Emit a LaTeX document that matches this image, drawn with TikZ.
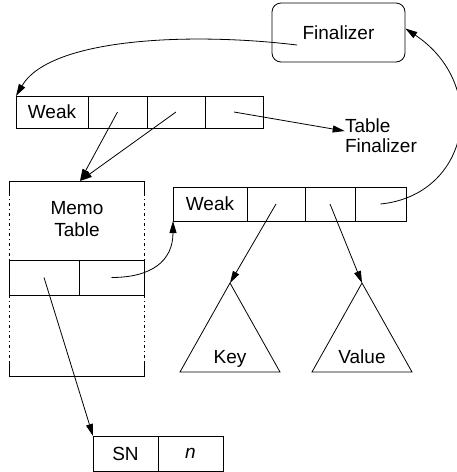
\documentclass[tikz,border=0pt]{standalone}
\usepackage{fontspec}
\setmainfont{Liberation Sans}
\usetikzlibrary{arrows.meta}
\usetikzlibrary{positioning}
\tikzset {
  % one field of a record
  cell/.style = {
    draw = black,
    rectangle,
    inner sep = 0,
    outer sep = 0,
    minimum height = 34pt
  },
  % rounded box for the finalizer
  fbox/.style = {
    draw = black,
    rectangle,
    rounded corners = 9pt,
    minimum width = 133pt,
    minimum height = 59pt,
    inner sep = 0
  },
  plain/.style = {
    inner sep = 0
  },
  % pointer out of a field
  ptr/.style = {
    draw = black,
    -{Triangle[length = 12pt, width = 7pt]}
  },
  % broken sides of the memo table
  memo side/.style = {
    dash pattern = on 3pt off 3pt on 1pt off 3pt
  }
}

\begin{document}
\begin{tikzpicture}[x = 1pt, y = -1pt, line width = 0.8pt,
    font = \fontsize{19}{22}\selectfont]
    \useasboundingbox (0,0) rectangle (457,472);

    \node[fbox] (final) at (338.5,32.5) {Finalizer};
    \coordinate (final-out) at (297,45);

    % upper weak pair
    \node[cell, minimum width = 72pt, minimum height = 32pt] (weakA) at (52,112) {Weak};
    \node[cell, minimum width = 59pt, minimum height = 32pt] (weakA-key) [right=0pt of weakA] {};
    \node[cell, minimum width = 58pt, minimum height = 32pt] (weakA-val) [right=0pt of weakA-key] {};
    \node[cell, minimum width = 58pt, minimum height = 32pt] (weakA-fin) [right=0pt of weakA-val] {};
    \node[plain, align = left, font = \fontsize{19}{20}\selectfont] (tfin) at (381,136) {Table\\Finalizer};

    % memo table
    \coordinate (memo-top) at (80,181);
    \node[plain, align = center] (memo) at (77,219) {Memo\\Table};
    \node[cell, minimum width = 70pt, minimum height = 35pt] (memo-key) at (44,277.5) {};
    \node[cell, minimum width = 65pt, minimum height = 35pt] (memo-val) [right=0pt of memo-key] {};
    \draw (9,193) -- (9,181) -- (144,181) -- (144,193);
    \draw[memo side] (9,193) -- (memo-key.north west);
    \draw[memo side] (144,193) -- (memo-val.north east);
    \draw[memo side] (memo-key.south west) -- (9,362);
    \draw[memo side] (memo-val.south east) -- (144,362);
    \draw (9,362) -- (9,376) -- (144,376) -- (144,362);

    % lower weak pair
    \node[cell, minimum width = 74pt] (weakB) at (210,204) {Weak};
    \node[cell, minimum width = 58pt] (weakB-key) [right=0pt of weakB] {};
    \node[cell, minimum width = 50pt] (weakB-val) [right=0pt of weakB-key] {};
    \node[cell, minimum width = 51pt] (weakB-fin) [right=0pt of weakB-val] {};

    % key and value trees
    \coordinate (key-top) at (230,283);
    \draw (key-top) -- (280,372) -- (180,372) -- cycle;
    \node[plain, anchor = base] (key) at (230,363) {Key};
    \coordinate (val-top) at (362,283);
    \draw (val-top) -- (412,372) -- (312,372) -- cycle;
    \node[plain, anchor = base] (val) at (362,363) {Value};

    % stable name
    \node[cell, minimum width = 65pt, minimum height = 35pt] (sn) at (125.5,453.5) {SN};
    \node[cell, minimum width = 65pt, minimum height = 35pt] (sn-n) [right=0pt of sn] {\textit{n}};

    \draw[ptr] (final-out) .. controls (190,32) and (50,38) .. (weakA.north west);
    \draw[ptr] (weakA-key.center) -- (memo-top);
    \draw[ptr] (weakA-val.center) -- (memo-top);
    \draw[ptr] (weakA-fin.center) -- ([yshift=5pt]tfin.west);
    \draw[ptr] (memo-val.center) .. controls +(40,0) and +(0,40) .. (weakB.south west);
    \draw[ptr] (weakB-fin.center) .. controls (470,195) and (490,85) .. ([yshift=4pt]final.east);
    \draw[ptr] (weakB-key.center) -- (key-top);
    \draw[ptr] (weakB-val.center) -- (val-top);
    \draw[ptr] (memo-key.center) -- (sn.north west);
\end{tikzpicture}
\end{document}
